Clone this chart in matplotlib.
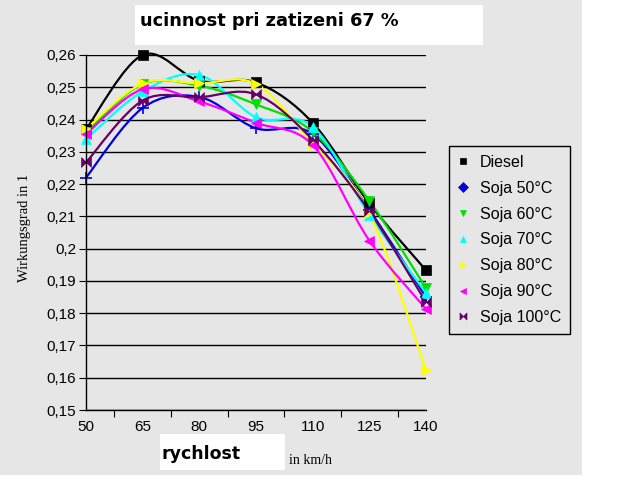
import numpy as np
import matplotlib
matplotlib.use("Agg")
import matplotlib.pyplot as plt
from matplotlib.path import Path
from matplotlib.patches import PathPatch, Rectangle
from matplotlib.lines import Line2D
from matplotlib.ticker import FixedLocator, FuncFormatter

speeds = ["50", "65", "80", "95", "110", "125", "140"]

diesel = [0.237, 0.260, 0.252, 0.2515, 0.239, 0.214, 0.1933]
soja50 = [0.222, 0.2436, 0.247, 0.2373, 0.2355, 0.212, 0.185]
soja60 = [0.236, 0.251, 0.2505, 0.2447, 0.2362, 0.2148, 0.1878]
soja70 = [0.234, 0.2487, 0.2538, 0.2407, 0.2378, 0.2105, 0.1862]
soja80 = [0.237, 0.2512, 0.2512, 0.251, 0.2325, 0.211, 0.1623]
soja90 = [0.2355, 0.2494, 0.2456, 0.239, 0.2321, 0.2025, 0.1813]
soja100 = [0.2267, 0.2459, 0.2469, 0.2478, 0.2337, 0.2116, 0.1834]

series_names = ["Diesel", "Soja 50°C", "Soja 60°C", "Soja 70°C",
                "Soja 80°C", "Soja 90°C", "Soja 100°C"]
series_vals = [diesel, soja50, soja60, soja70, soja80, soja90, soja100]

bowtie = [(-1, -1), (-1, 1), (0, 0), (1, 1), (1, -1), (0, 0), (-1, -1)]
colors = ["black", "#0000dd", "#00e000", "#00ffff", "#ffff00", "#ff00ff", "#660066"]
markers = ["s", "D", "v", "^", ">", "<", bowtie]
plot_markers = ["s", "+", "v", "^", ">", "<", bowtie]
msizes = [7, 8, 7, 7, 7, 7, 7]

BG = "#e6e6e6"


def smooth_path(xs, ys, t=1 / 6):
    # excel-like smoothed line: cubic bezier through each point
    pts = np.column_stack([xs, ys])
    n = len(pts)
    verts = [pts[0]]
    codes = [Path.MOVETO]
    for i in range(n - 1):
        p0 = pts[i - 1] if i > 0 else pts[i]
        p1 = pts[i]
        p2 = pts[i + 1]
        p3 = pts[i + 2] if i + 2 < n else pts[i + 1]
        c1 = p1 + (p2 - p0) * t
        c2 = p2 - (p3 - p1) * t
        verts += [c1, c2, p2]
        codes += [Path.CURVE4] * 3
    return Path(verts, codes)


fig = plt.figure(figsize=(6.42, 4.80), dpi=100)
fig.patch.set_facecolor("white")
fig.patches.append(Rectangle((0, 1 - 475 / 480), 582 / 642, 475 / 480,
                             transform=fig.transFigure, facecolor=BG,
                             edgecolor="none", zorder=-10))

ax = fig.add_axes([86 / 642, 1 - 410 / 480, (426 - 86) / 642, (410 - 55) / 480])
ax.set_facecolor(BG)
ax.patch.set_alpha(0)

x = np.arange(len(speeds))
for vals, c, m, ms in zip(series_vals, colors, plot_markers, msizes):
    ax.add_patch(PathPatch(smooth_path(x, vals), facecolor="none",
                           edgecolor=c, lw=1.6, clip_on=False))
    ax.plot(x, vals, linestyle="none", marker=m, color=c, markersize=ms,
            markeredgewidth=1.2 if m == "+" else 0.5, clip_on=False)

ax.yaxis.set_major_locator(FixedLocator(np.round(np.arange(0.15, 0.2601, 0.01), 2)))
ax.yaxis.set_major_formatter(FuncFormatter(lambda v, p: ("%g" % round(v, 2)).replace(".", ",")))
ax.grid(axis="y", color="black", lw=1)
ax.set_axisbelow(True)

ax.set_xticks(x[:-1] + 0.5, minor=False)
ax.set_xticklabels([])
ax.set_xticks(x, minor=True)
ax.set_xticklabels(speeds, minor=True)
ax.set_xlim(0, 6)
ax.set_ylim(0.15, 0.26)
ax.tick_params(axis="x", which="major", length=5, direction="out", color="black")
ax.tick_params(axis="x", which="minor", length=0, pad=7, labelsize=11)
ax.tick_params(axis="y", length=5, direction="out", labelsize=11, pad=2)
for lbl in ax.get_xticklabels(minor=True) + ax.get_yticklabels():
    lbl.set_fontfamily("Liberation Sans")

for s in ["top", "right"]:
    ax.spines[s].set_visible(False)
ax.spines["left"].set_linewidth(1)
ax.spines["bottom"].set_linewidth(1)

# title box
fig.patches.append(Rectangle((135 / 642, 1 - 45 / 480), 348 / 642, 40 / 480,
                             transform=fig.transFigure, facecolor="white",
                             edgecolor="none", zorder=-5))
fig.text(140 / 642, 1 - 21 / 480, "ucinnost pri zatizeni 67 %", fontsize=12.8,
         fontweight="bold", family="DejaVu Sans", va="center", ha="left")

# x label box
fig.patches.append(Rectangle((160 / 642, 1 - 470 / 480), 125 / 642, 36 / 480,
                             transform=fig.transFigure, facecolor="white",
                             edgecolor="none", zorder=-5))
fig.text(162 / 642, 1 - 454 / 480, "rychlost", fontsize=12.5, fontweight="bold",
         family="DejaVu Sans", va="center", ha="left")
fig.text(289 / 642, 1 - 460 / 480, "in km/h", fontsize=10, family="Liberation Serif",
         va="center", ha="left")

fig.text(25 / 642, 1 - 228 / 480, "Wirkungsgrad in 1", fontsize=10.5,
         family="Liberation Serif", rotation=90, va="center", ha="center")

handles = [Line2D([], [], linestyle="none", marker=m, color=c, markersize=5,
                  markeredgewidth=0.5)
           for m, c in zip(markers, colors)]
leg = fig.legend(handles, series_names, loc="upper left",
                 bbox_to_anchor=(449 / 642, 1 - 146 / 480), frameon=True,
                 fancybox=False, edgecolor="black", facecolor=BG, framealpha=1,
                 prop={"family": "Liberation Sans", "size": 11.5},
                 handlelength=0.6, handletextpad=0.8, labelspacing=0.68,
                 borderpad=0.55, borderaxespad=0)
leg.get_frame().set_linewidth(1)

fig.savefig("out.png", dpi=100)
